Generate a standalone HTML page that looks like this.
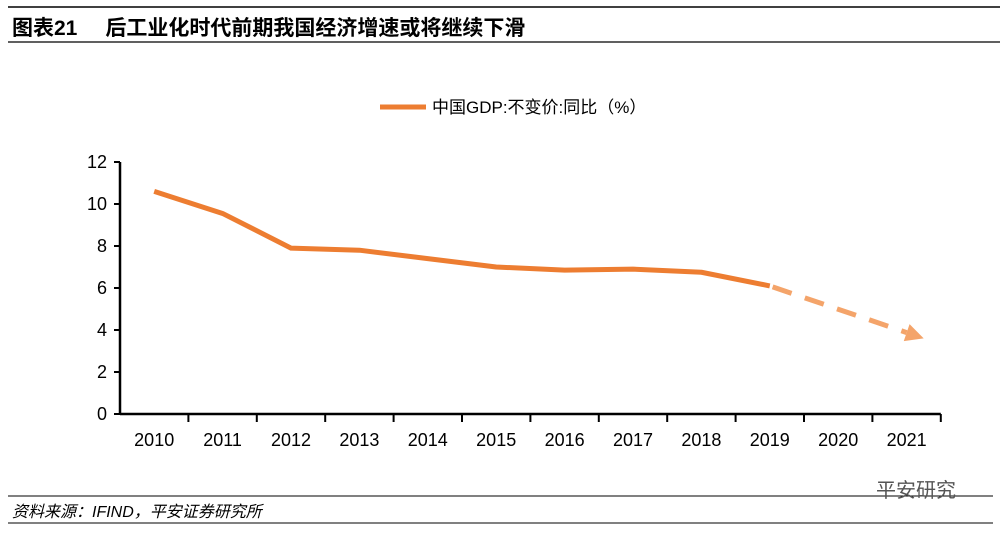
<!DOCTYPE html>
<html><head><meta charset="utf-8"><style>
body{margin:0;width:1007px;height:535px;background:#fff;overflow:hidden;font-family:"Liberation Sans","Noto Sans CJK SC",sans-serif;}
</style></head><body>
<svg width="1007" height="535" viewBox="0 0 1007 535" xmlns="http://www.w3.org/2000/svg">
<line x1="8" y1="7" x2="1000" y2="7" stroke="#000" stroke-width="1.5"/>
<text x="12" y="35" font-size="21" font-weight="bold" fill="#000">图表21<tspan dx="28">后工业化时代前期我国经济增速或将继续下滑</tspan></text>
<line x1="8" y1="42" x2="1000" y2="42" stroke="#000" stroke-width="1.2"/>
<g>
<line x1="380" y1="107" x2="426" y2="107" stroke="#ED7D31" stroke-width="5"/>
<text x="432" y="113" font-size="17" fill="#000">中国GDP:不变价:同比（%）</text>
</g>
<g id="axes"></g>
<g id="marks"></g>
<line x1="8" y1="496" x2="993" y2="496" stroke="#000" stroke-width="1"/>
<text x="12" y="517" font-size="16" font-style="italic" fill="#000">资料来源：IFIND，平安证券研究所</text>
<text x="876" y="497" font-size="20" fill="#555">平安研究</text>
<line x1="8" y1="523" x2="993" y2="523" stroke="#000" stroke-width="1"/>
</svg>
<script>
const categories=["2010","2011","2012","2013","2014","2015","2016","2017","2018","2019","2020","2021"];
const gdpValues=[10.6,9.55,7.9,7.8,7.4,7.0,6.85,6.9,6.75,6.1];
const forecastIdx=[9,11.25];
const forecastValues=[6.1,3.6];
const yTicks=[0,2,4,6,8,10,12];
const NS="http://www.w3.org/2000/svg";
const x0=120,cw=68.4,y0=414,ppu=21;
const X=i=>x0+cw*(i+0.5), Y=v=>y0-v*ppu;
const ax=document.getElementById('axes'), mk=document.getElementById('marks');
function el(t,a,p){const e=document.createElementNS(NS,t);for(const k in a)e.setAttribute(k,a[k]);p.appendChild(e);return e;}
let e=el('line',{x1:x0,y1:Y(12),x2:x0,y2:y0,stroke:'#000','stroke-width':2.5},ax);


e=el('line',{x1:x0,y1:y0,x2:x0+cw*categories.length,y2:y0,stroke:'#000','stroke-width':2.5},ax);


yTicks.forEach(v=>{
 el('line',{x1:x0-6,y1:Y(v),x2:x0,y2:Y(v),stroke:'#000','stroke-width':2},ax);
 const t=el('text',{x:x0-13,y:Y(v)+6,'font-size':18,'text-anchor':'end',fill:'#000'},ax);t.textContent=v;
 
 
});
categories.forEach((c,i)=>{
 el('line',{x1:x0+cw*(i+1),y1:y0,x2:x0+cw*(i+1),y2:y0+8,stroke:'#000','stroke-width':2},ax);
 const t=el('text',{x:X(i),y:y0+32,'font-size':18,'text-anchor':'middle',fill:'#000'},ax);t.textContent=c;
 
 
});
const p=el('polyline',{points:gdpValues.map((v,i)=>X(i)+','+Y(v)).join(' '),fill:'none',stroke:'#ED7D31','stroke-width':5,'stroke-linejoin':'round'},mk);


const ax1=X(forecastIdx[0]),ay1=Y(forecastValues[0]),ax2=X(forecastIdx[1]),ay2=Y(forecastValues[1]);
const dx=ax2-ax1,dy=ay2-ay1,L=Math.hypot(dx,dy),ux=dx/L,uy=dy/L,hl=18;
const bx=ax2-ux*hl,by=ay2-uy*hl;
const d=el('line',{x1:ax1+ux*3,y1:ay1+uy*3,x2:bx,y2:by,stroke:'#F4A46A','stroke-width':5,'stroke-dasharray':'20 14'},mk);


const h=el('polygon',{points:`${ax2},${ay2} ${bx-uy*9},${by+ux*9} ${bx+uy*9},${by-ux*9}`,fill:'#F4A46A'},mk);


</script>
</body></html>
